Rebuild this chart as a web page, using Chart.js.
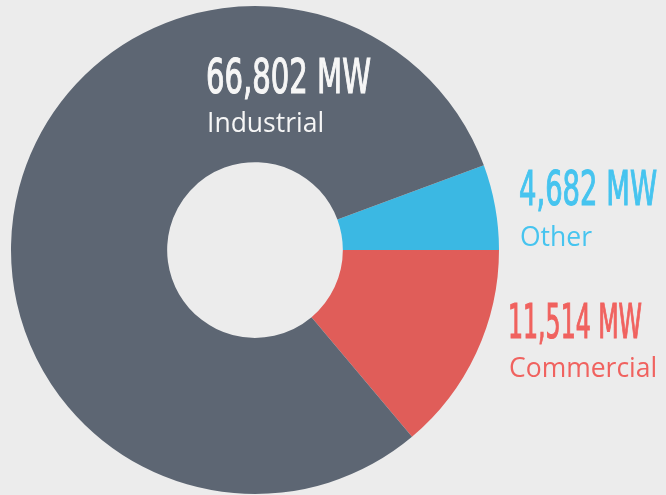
<!DOCTYPE html>
<html>
<head>
<meta charset="utf-8">
<title>Power demand by sector</title>
<script src="https://cdn.jsdelivr.net/npm/chart.js@4/dist/chart.umd.min.js"></script>
<style>
    html, body {
        margin: 0;
        padding: 0;
        background: #ececec;
    }
    #wrap {
        width: 666px;
        height: 495px;
    }
</style>
</head>
<body>
<div id="wrap"><canvas id="powerChart" width="666" height="495"></canvas></div>
<script>
// ============================================
// DATA
// ============================================
const sectors = ['Other', 'Commercial', 'Industrial'];
const megawatts = [4682, 11514, 66802];
const valueLabels = ['4,682 MW', '11,514 MW', '66,802 MW'];
const sliceColors = ['#3bb8e3', '#e05d59', '#5d6673'];
const textColors = ['#46c4ef', '#f0625f', '#f6f6f6'];

// where each label block sits (x, width of the number, baselines)
const labelSpots = [
    { x: 519, w: 138, numY: 205, nameY: 246 },
    { x: 508, w: 134, numY: 338, nameY: 377 },
    { x: 206, w: 165, numY: 93, nameY: 132 }
];

// start the first slice so that it ends on the 3 o'clock line
const total = megawatts.reduce((a, b) => a + b, 0);
const startRotation = 90 - 360 * megawatts[0] / total;

// Labels plugin
const sectorLabels = {
    id: 'sectorLabels',
    afterDraw(chart) {
        const ctx = chart.ctx;
        ctx.save();
        ctx.textAlign = 'left';
        ctx.textBaseline = 'alphabetic';
        sectors.forEach((name, i) => {
            const spot = labelSpots[i];
            ctx.fillStyle = textColors[i];

            // big condensed number, squeezed to its width
            ctx.font = '48px "DejaVu Sans Condensed", "Liberation Sans", sans-serif';
            const sx = spot.w / ctx.measureText(valueLabels[i]).width;
            ctx.save();
            ctx.translate(spot.x, spot.numY);
            ctx.scale(sx, 1);
            ctx.strokeStyle = textColors[i];
            ctx.lineWidth = 1.2;
            ctx.fillText(valueLabels[i], 0, 0);
            ctx.strokeText(valueLabels[i], 0, 0);
            ctx.restore();

            // sector name
            ctx.font = '26.5px "Open Sans", "Noto Sans", sans-serif';
            ctx.fillText(name, spot.x + 1, spot.nameY);
        });
        ctx.restore();
    }
};

// Doughnut Chart
new Chart(document.getElementById('powerChart'), {
    type: 'doughnut',
    data: {
        labels: sectors,
        datasets: [{
            data: megawatts,
            backgroundColor: sliceColors,
            borderWidth: 0,
            hoverOffset: 0
        }]
    },
    options: {
        responsive: false,
        animation: false,
        cutout: '36%',
        rotation: startRotation,
        layout: {
            padding: { left: 11, right: 167, top: 6, bottom: 1 }
        },
        plugins: {
            legend: { display: false },
            tooltip: { enabled: false }
        }
    },
    plugins: [sectorLabels]
});
</script>
</body>
</html>
